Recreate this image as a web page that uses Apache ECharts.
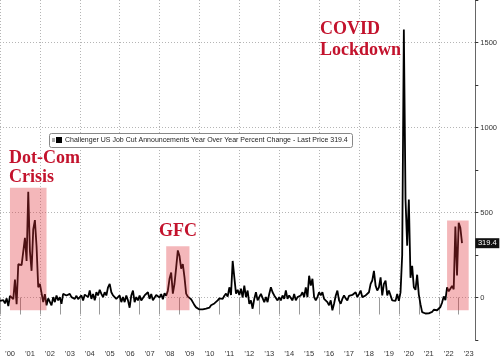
<!DOCTYPE html>
<html><head><meta charset="utf-8">
<script src="https://cdn.jsdelivr.net/npm/echarts@6/dist/echarts.min.js"></script>
<style>html,body{margin:0;padding:0;background:#fff}#c{width:500px;height:359px}</style>
</head><body><div id="c"></div>
<script>
// Month categories: Jan 2000 .. Nov 2023 (axis runs a little past the last print)
const startYear = 2000, endYear = 2023, endMonth = 11;
const months = [];
for (let y = startYear; y <= endYear; y++) {
  for (let m = 1; m <= 12; m++) {
    if (y === endYear && m > endMonth) break;
    months.push(y + '-' + String(m).padStart(2, '0'));
  }
}

// Challenger US Job Cut Announcements, YoY % change (monthly)
const yoy2000 = [-20, -27, -15, -35, -5, -50, 10, 21, -10, 105, -40, 196];
const yoy2001 = [200, 190, 200, 351, 215, 622, 273, 157, 400, 455, 300, 60];
const yoy2002 = [80, 70, -27, 20, -46, -5, -8, -46, 2, -27, 12, -17];
const yoy2003 = [2, -37, 21, 31, 12, 2, 21, 2, 12, -8, 10, -10];
const yoy2004 = [-20, 12, -17, 17, 12, 2, 41, -8, 21, -17, 31, 12];
const yoy2005 = [45, 21, 2, 31, 12, 60, 80, 31, 12, 21, -8, -17];
const yoy2006 = [12, -27, 2, -27, 12, -17, -60, 12, 41, -27, 2, -17];
const yoy2007 = [12, -17, -8, 12, 21, 31, -8, 21, -17, -8, 15, 5];
const yoy2008 = [0, 20, -10, 25, 10, 40, 110, 147, 23, 81, 176, 277];
const yoy2009 = [244, 170, 197, 120, 23, 5, 0, -10, -27, -45, -58, -68];
const yoy2010 = [-70, -65, -70, -62, -66, -55, -60, -46, -50, -35, -25, -17];
const yoy2011 = [-5, 0, -8, 10, 23, 5, 60, 15, 215, 118, 23, 45];
const yoy2012 = [15, 52, 0, 70, 2, 41, -37, -17, -66, -8, 31, -17];
const yoy2013 = [2, 21, 31, -27, 2, -27, 21, 60, 31, 12, 2, -17];
const yoy2014 = [2, -17, 12, -8, 41, -8, 12, 2, -17, 21, -17, 2];
const yoy2015 = [6, 12, 31, 2, 60, 2, 128, 70, 110, 2, -17, 2];
const yoy2016 = [31, 12, 31, -8, 2, -27, -46, -17, -75, -37, 10, 41];
const yoy2017 = [-17, -37, -8, 12, -5, -17, 10, 2, 15, 21, 31, 2];
const yoy2018 = [20, 41, 2, 10, 12, 2, 31, 80, 100, 157, 70, 41];
const yoy2019 = [60, 118, 12, 80, 99, 12, 41, 31, -17, -27, -20, 21];
const yoy2020 = [-20, 30, 250, 1577, 578, 305, 576, 116, 186, 60, 45, 134];
const yoy2021 = [17, -39, -86, -97, -94, -88, -93, -86, -85, -72, -77, -75];
const yoy2022 = [-76, -56, -30, 6, -16, 59, 36, 32, 68, 48, 417, 129];
const yoy2023 = [440, 410, 319.4];
const values = [].concat(yoy2000, yoy2001, yoy2002, yoy2003, yoy2004, yoy2005,
  yoy2006, yoy2007, yoy2008, yoy2009, yoy2010, yoy2011, yoy2012, yoy2013, yoy2014,
  yoy2015, yoy2016, yoy2017, yoy2018, yoy2019, yoy2020, yoy2021, yoy2022, yoy2023);
const lastPrice = 319.4;

// Highlighted episodes: [start month, top value, end month, bottom value]
const boxStart = ['2000-07', '2008-05', '2022-06'];
const boxEnd   = ['2002-05', '2009-07', '2023-07'];
const boxTop   = [645, 302, 453];
const boxBottom = [-75, -75, -75];

const yLabels = [0, 500, 1000, 1500];
const legendText = 'Challenger US Job Cut Announcements Year Over Year Percent Change - Last Price 319.4';

const chart = echarts.init(document.getElementById('c'));
const red = '#c3132d';
const serif = '"Liberation Serif", "Times New Roman", serif';
function ann(text, x, y) {
  return { type: 'text', x: x, y: y, z: 120,
    style: { text: text, fontSize: 18, fontWeight: 'bold', fontFamily: serif, fill: red, verticalAlign: 'top', textVerticalAlign: 'top' } };
}
chart.setOption({
  animation: false,
  backgroundColor: '#fff',
  grid: { left: -2, right: 22, top: -4, bottom: 19, containLabel: false },
  xAxis: {
    type: 'category', data: months, boundaryGap: false,
    axisLine: { show: false },
    axisTick: { show: true, interval: (i) => i % 12 === 0, length: 17, lineStyle: { color: '#999', width: 1 } },
    axisLabel: { interval: (i) => i % 12 === 6, formatter: (v) => '\u2019' + v.slice(2, 4),
      fontSize: 7.5, color: '#333', margin: 10, fontFamily: 'Liberation Sans' },
    splitLine: { show: true, interval: (i) => i % 24 === 0, lineStyle: { type: [1, 2], color: '#b5b5b5', width: 1 } }
  },
  yAxis: {
    type: 'value', position: 'right', min: -250, max: 1750, interval: 250,
    axisLine: { show: true, lineStyle: { color: '#666', width: 1 } },
    axisTick: { show: true, length: 3, lineStyle: { color: '#333' } },
    axisLabel: { fontSize: 7.5, color: '#333', margin: 5, fontFamily: 'Liberation Sans',
      formatter: (v) => (yLabels.indexOf(v) >= 0 ? String(v) : '') },
    splitLine: { show: false }
  },
  series: [{
    type: 'line', data: values, symbol: 'none', z: 3,
    lineStyle: { color: '#000', width: 1.8 },
    markLine: { silent: true, symbol: 'none', z: 1, label: { show: false },
      lineStyle: { type: [1, 2], color: '#b5b5b5', width: 1 },
      data: yLabels.map((v) => ({ yAxis: v })) },
    markArea: { silent: true, z: 10, itemStyle: { color: 'rgba(224,50,56,0.35)' },
      data: boxStart.map((s, i) => [{ xAxis: s, yAxis: boxTop[i] }, { xAxis: boxEnd[i], yAxis: boxBottom[i] }]) },
    markPoint: { silent: true, symbol: 'rect', symbolSize: [24, 10], symbolOffset: [12, 0],
      itemStyle: { color: '#111' },
      label: { show: true, position: 'inside', color: '#fff', fontSize: 7.5, fontFamily: 'Liberation Sans',
        formatter: () => String(lastPrice) },
      data: [{ coord: [months[months.length - 1], lastPrice] }] }
  }],
  graphic: [
    { type: 'rect', z: 100, shape: { x: 49.5, y: 133.5, width: 303, height: 14, r: 2 }, style: { fill: '#fff', stroke: '#888', lineWidth: 1 } },
    { type: 'rect', z: 101, shape: { x: 52, y: 138, width: 3, height: 4 }, style: { fill: '#aaa' } },
    { type: 'rect', z: 101, shape: { x: 56, y: 137, width: 6, height: 6 }, style: { fill: '#000' } },
    { type: 'text', z: 101, x: 65, y: 140.5, style: { text: legendText, fontSize: 7, fontFamily: 'Liberation Sans', fill: '#222', verticalAlign: 'middle', textVerticalAlign: 'middle' } },
    ann('Dot-Com', 9, 149), ann('Crisis', 9, 168.5), ann('GFC', 159, 222),
    ann('COVID', 320, 20), ann('Lockdown', 320, 41)
  ]
});
</script></body></html>
